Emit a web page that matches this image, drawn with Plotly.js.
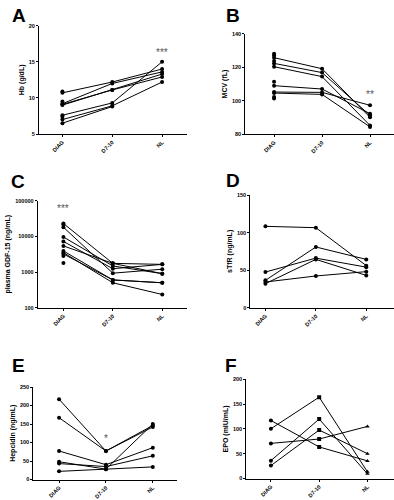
<!DOCTYPE html>
<html>
<head>
<meta charset="utf-8">
<script src="https://cdn.plot.ly/plotly-3.0.1.min.js"></script>
<style>html,body{margin:0;padding:0;background:#fff;}#chart{width:394px;height:500px;}</style>
</head>
<body>
<div id="chart"></div>
<script>
const categories = ['DIAG', 'D7-10', 'NL'];

// Panel A: Hb (g/dL)
const hbSeries = [
  [10.7, 12.2, 14.0],
  [9.2, 12.0, 13.6],
  [9.0, 11.1, 13.3],
  [9.1, 11.1, 12.9],
  [7.6, 9.3, 15.0],
  [7.0, 8.9, 12.2],
  [6.5, 8.8, null]
];
const hbDiagOnly = [10.9, 9.5, 7.4];

// Panel B: MCV (fL)
const mcvSeries = [
  [125.7, 119.1, 90.1],
  [122.3, 116.8, 91.3],
  [120.3, 114.4, 85.3],
  [109.0, 107.0, 92.3],
  [105.2, 105.0, 97.3],
  [104.6, 103.8, 84.4]
];
const mcvDiagOnly = [128, 127, 123.7, 111.4, 102.2, 101.3];

// Panel C: plasma GDF-15 (ng/mL)
const gdfSeries = [
  [23000, 1750, 1640],
  [18000, 930, 1200],
  [9600, 1480, 900],
  [7200, 1240, 1640],
  [5400, 1750, 900],
  [3900, 600, 500],
  [3500, 500, 235],
  [3200, 600, 500]
];
const gdfDiagOnly = [21500, 2800, 1800];

// Panel D: sTfR (ng/mL)
const stfrSeries = [
  [108.3, 106.5, 56],
  [47.5, 66, 54],
  [36.4, 80.8, 64.3],
  [32, 64.3, 43],
  [34.2, 42.2, 48]
];

// Panel E: Hepcidin (ng/mL)
const hepSeries = [
  [217, 77, 146],
  [167, 77, 142],
  [77, 40, 86],
  [48, 28, 150],
  [43, 35, 64],
  [22, 28, 34]
];

// Panel F: EPO (mIU/mL)
const epoSeries = [
  [117, 63.6, 35.5],
  [100.3, 164, 13.4],
  [70.8, 79.6, 105],
  [36, 119.8, 9.4],
  [26, 97.7, 50]
];
const epoSymbols = ['circle', 'square', 'triangle-up'];

const panels = [
  {key: '', series: hbSeries, extra: hbDiagOnly, title: 'Hb (g/dL)', range: [5, 20], dtick: 5,
   xd: [39, 187], yd: [25.7, 134], xr: [-0.47, 2.5]},
  {key: '2', series: mcvSeries, extra: mcvDiagOnly, title: 'MCV (fL)', range: [80, 140], dtick: 20,
   xd: [245.3, 394], yd: [33.7, 134.3], xr: [-0.6, 2.5]},
  {key: '3', series: gdfSeries, extra: gdfDiagOnly, title: 'plasma GDF-15 (ng/mL)', log: true,
   xd: [37.7, 187], yd: [200.7, 307.7], xr: [-0.52, 2.5]},
  {key: '4', series: stfrSeries, extra: [], title: 'sTfR (ng/mL)', range: [0, 150], dtick: 50,
   xd: [250.3, 394], yd: [195, 307.7], xr: [-0.3, 2.55]},
  {key: '5', series: hepSeries, extra: [], title: 'Hepcidin (ng/mL)', range: [0, 250], dtick: 50,
   xd: [33.3, 176.7], yd: [387, 479.5], xr: [-0.55, 2.51]},
  {key: '6', series: epoSeries, extra: [], title: 'EPO (mIU/mL)', range: [0, 200], dtick: 50,
   xd: [246.3, 394], yd: [379.3, 478.5], xr: [-0.51, 2.55], symbols: epoSymbols}
];

const W = 394, H = 500;
const FONT = 'Liberation Sans, Arial, sans-serif';
const traces = [];
const layout = {
  width: W, height: H,
  margin: {l: 0, r: 0, t: 0, b: 0},
  paper_bgcolor: '#fff', plot_bgcolor: '#fff',
  showlegend: false,
  font: {family: FONT, color: '#000'},
  annotations: []
};

panels.forEach(p => {
  const xa = 'x' + p.key, ya = 'y' + p.key;
  p.series.forEach(s => {
    traces.push({
      x: categories, y: s, xaxis: xa, yaxis: ya,
      type: 'scatter', mode: 'lines+markers',
      line: {color: '#000', width: 1},
      marker: {color: '#000', size: 4, symbol: p.symbols || 'circle'},
      connectgaps: false, hoverinfo: 'skip'
    });
  });
  if (p.extra.length) {
    traces.push({
      x: p.extra.map(() => categories[0]), y: p.extra, xaxis: xa, yaxis: ya,
      type: 'scatter', mode: 'markers',
      marker: {color: '#000', size: 4}, hoverinfo: 'skip'
    });
  }
  const axBase = {
    showline: true, linecolor: '#000', linewidth: 1,
    ticks: 'outside', ticklen: 2, tickwidth: 1, tickcolor: '#000',
    showgrid: false, zeroline: false, fixedrange: true
  };
  layout['xaxis' + p.key] = Object.assign({}, axBase, {
    type: 'category', categoryarray: categories, range: p.xr,
    domain: [p.xd[0] / W, p.xd[1] / W], anchor: ya,
    tickangle: -45, tickfont: {size: 5.5, family: FONT, weight: 'bold'}
  });
  const yax = Object.assign({}, axBase, {
    domain: [1 - p.yd[1] / H, 1 - p.yd[0] / H], anchor: xa,
    tickfont: {size: 5.5, family: FONT, weight: 'bold'},
    title: {text: p.title, font: {size: 7, family: FONT, weight: 'bold'}, standoff: 3}
  });
  if (p.log) {
    Object.assign(yax, {type: 'log', range: [2, 5],
      tickvals: [100, 1000, 10000, 100000], ticktext: ['100', '1000', '10000', '100000']});
  } else {
    Object.assign(yax, {range: p.range, dtick: p.dtick, tick0: 0});
  }
  layout['yaxis' + p.key] = yax;
});

// panel letters
const letters = [
  {t: 'A', x: 10, y: 3}, {t: 'B', x: 224, y: 3},
  {t: 'C', x: 9, y: 169}, {t: 'D', x: 224, y: 168},
  {t: 'E', x: 10, y: 353}, {t: 'F', x: 223, y: 353}
];
letters.forEach(l => layout.annotations.push({
  text: l.t, xref: 'paper', yref: 'paper', x: l.x / W, y: 1 - l.y / H,
  xanchor: 'left', yanchor: 'top', showarrow: false,
  font: {size: 19, family: FONT, weight: 'bold', color: '#000'}
}));

// significance stars
const stars = [
  {t: '***', xref: 'x', yref: 'y', x: 'NL', y: 16.3},
  {t: '**', xref: 'x2', yref: 'y2', x: 'NL', y: 104},
  {t: '***', xref: 'x3', yref: 'y3', x: 'DIAG', y: Math.log10(62000)},
  {t: '*', xref: 'x5', yref: 'y5', x: 'D7-10', y: 112}
];
stars.forEach(s => layout.annotations.push({
  text: s.t, xref: s.xref, yref: s.yref, x: s.x, y: s.y,
  showarrow: false, font: {size: 10, family: FONT, color: '#555'}
}));

Plotly.newPlot('chart', traces, layout, {staticPlot: true, displayModeBar: false});
</script>
</body>
</html>
